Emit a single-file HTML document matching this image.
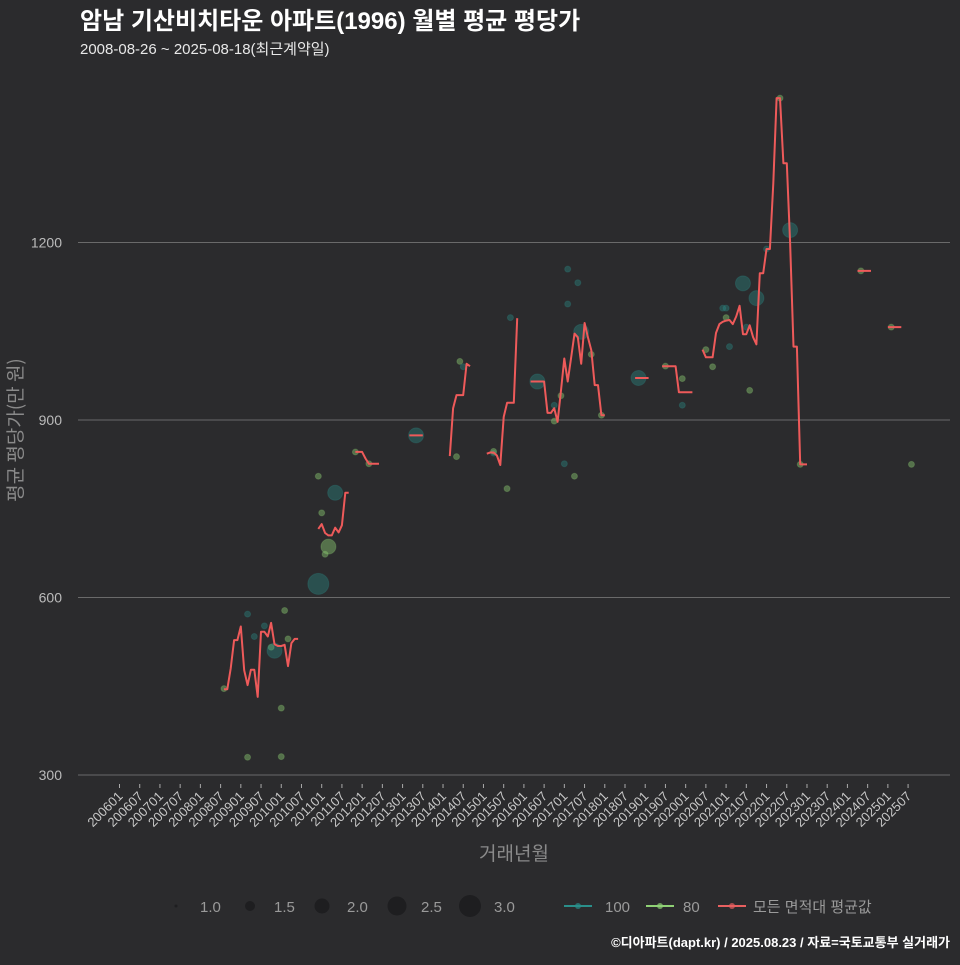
<!DOCTYPE html>
<html><head><meta charset="utf-8">
<style>
html,body{margin:0;padding:0;background:#2b2b2d;}
body{width:960px;height:960px;overflow:hidden;font-family:"Liberation Sans","Noto Sans CJK KR",sans-serif;}
</style></head>
<body>
<svg id="chart" width="960" height="960" xmlns="http://www.w3.org/2000/svg" style="font-family:'Liberation Sans','Noto Sans CJK KR',sans-serif">
<rect width="960" height="960" fill="#2b2b2d"/>
<text x="80" y="29" fill="#ffffff" font-size="24" font-weight="bold">암남 기산비치타운 아파트(1996) 월별 평균 평당가</text>
<text x="80" y="54" fill="#e8e8e8" font-size="15">2008-08-26 ~ 2025-08-18(최근계약일)</text>
<g id="grid"></g>
<g id="yticks"></g>
<g id="xticks"></g>
<g id="points"></g>
<g id="line"></g>
<text transform="translate(22,430) rotate(-90)" text-anchor="middle" fill="#8a8a8a" font-size="19" style="font-family:'Noto Sans CJK KR','Liberation Sans',sans-serif">평균 평당가(만 원)</text>
<text x="514" y="860" text-anchor="middle" fill="#8a8a8a" font-size="19">거래년월</text>
<g font-size="15" fill="#9a9a9a">
<circle cx="176" cy="906" r="1.5" fill="#1e1e20"/>
<text x="200" y="912">1.0</text>
<circle cx="250" cy="906" r="5" fill="#1e1e20"/>
<text x="274" y="912">1.5</text>
<circle cx="322" cy="906" r="7.5" fill="#1e1e20"/>
<text x="347" y="912">2.0</text>
<circle cx="397" cy="906" r="9.5" fill="#1e1e20"/>
<text x="421" y="912">2.5</text>
<circle cx="470" cy="906" r="11" fill="#1e1e20"/>
<text x="494" y="912">3.0</text>
<line x1="564" y1="906" x2="592" y2="906" stroke="#2a8f8a" stroke-width="2"/>
<circle cx="578" cy="906" r="3" fill="#2a8f8a" opacity="0.7"/>
<text x="605" y="912">100</text>
<line x1="646" y1="906" x2="674" y2="906" stroke="#8fd175" stroke-width="2"/>
<circle cx="660" cy="906" r="3" fill="#8fd175" opacity="0.7"/>
<text x="683" y="912">80</text>
<line x1="718" y1="906" x2="746" y2="906" stroke="#e86060" stroke-width="2"/>
<circle cx="732" cy="906" r="3" fill="#e86060" opacity="0.7"/>
<text x="753" y="912">모든 면적대 평균값</text>
</g>
<text x="950" y="947" text-anchor="end" fill="#ffffff" font-size="13" font-weight="bold">©디아파트(dapt.kr) / 2025.08.23 / 자료=국토교통부 실거래가</text>
</svg>
<script>
const yTickValues=[300,600,900,1200];
const xTickLabels=[];
for(let y=2006;y<=2025;y++){xTickLabels.push(y+"01");xTickLabels.push(y+"07");}
const lineMonths=[200808,200809,200810,200811,200812,200901,200902,200903,200904,200905,200906,200907,200908,200909,200910,200911,200912,201001,201002,201003,201004,201005,201006,201007,
201012,201101,201102,201103,201104,201105,201106,201107,201108,201109,201110,
201111,201112,201201,201202,201203,201204,201205,201206,201207,
201303,201304,201305,201306,201307,201308,
201403,201404,201405,201406,201407,201408,201409,201410,
201502,201503,201504,201505,201506,201507,201508,201509,201510,201511,201512,
201603,201604,201605,201606,201607,201608,201609,201610,201611,201612,201701,201702,201703,201704,201705,201706,201707,201708,201709,201710,201711,201712,201801,201802,
201810,201811,201812,201901,201902,201903,
201906,201907,201908,201909,201910,201911,201912,202001,202002,202003,202004,
202006,202007,202008,202009,202010,202011,202012,202101,202102,202103,202104,202105,202106,202107,202108,202109,202110,202111,202112,202201,202202,202203,202204,202205,202206,202207,202208,202209,202210,202211,202212,202301,
202403,202404,202405,202406,202407,202408,
202412,202501,202502,202503,202504,202505,
202507,202508];
const lineValues=[445,445,480,528,528,551,477,452,478,478,432,542,542,534,557,521,518,518,520,484,523,530,530,null,
716,724,709,705,705,718,710,722,777,777,null,
846,846,846,835,826,826,826,826,null,
874,874,874,874,874,null,
839,920,942,942,942,995,991,null,
843,845,845,840,824,905,929,929,929,1072,null,
965,965,965,965,965,912,912,920,897,950,1004,965,1005,1046,1040,995,1064,1040,1018,959,959,908,908,null,
971,971,971,971,971,null,
991,991,991,991,991,947,947,947,947,947,null,
1019,1006,1006,1006,1047,1062,1066,1068,1069,1062,1075,1093,1045,1045,1060,1040,1028,1148,1148,1189,1189,1300,1444,1444,1334,1334,1200,1024,1024,825,825,825,null,
1152,1152,1152,1152,1152,null,
1057,1057,1057,1057,1057,null,
825,825];
const ptMonths=[200808,200903,200903,200905,200908,200910,200911,201001,201002,201003,201001,
201012,201101,201103,201102,201012,201105,201111,201203,201305,
201406,201407,201405,201504,201504,201508,201509,
201605,201610,201612,201610,201701,201704,201702,201705,201706,201709,201712,201702,
201811,201907,201912,201912,202007,202009,202012,202101,202101,202102,202106,202107,202108,202110,202201,202205,202208,202211,202405,202502,202508];
const ptValues=[446,572,330,534,552,516,510,413,578,530,331,
805,743,686,673,623,777,846,826,874,
999,990,838,844,847,784,1073,
965,898,941,925,826,805,1096,1132,1049,1011,908,1155,
971,991,970,925,1019,990,1089,1089,1073,1024,1131,1057,950,1106,1189,1444,1221,825,1152,1057,825];
const ptSizes=[1,1,1,1,1,1,2,1,1,1,1,
1,1,2,1,3,2,1,1,2,
1,1,1,1,1,1,1,
2,1,1,1,1,1,1,1,2,1,1,1,
2,1,1,1,1,1,1,1,1,1,2,1,1,2,1,1,2,1,1,1,1];
const ptTypes=["80","100","80","100","100","80","100","80","80","80","80",
"80","80","80","80","100","100","80","80","100",
"80","100","80","100","80","80","100",
"100","80","80","100","100","80","100","100","100","80","80","100",
"100","80","80","100","80","80","100","100","80","100","100","100","80","100","100","80","100","80","80","80","80"];

const NS="http://www.w3.org/2000/svg";
function mIdx(ym){return (Math.floor(ym/100)-2006)*12+(ym%100-1);}
function xS(ym){return 119.5+3.37*mIdx(ym);}
function yS(v){return 775-(v-300)*177.5/300;}
function mk(tag,attrs,parent){const e=document.createElementNS(NS,tag);for(const k in attrs)e.setAttribute(k,attrs[k]);parent.appendChild(e);return e;}

const grid=document.getElementById('grid'),yt=document.getElementById('yticks'),xt=document.getElementById('xticks');
yTickValues.forEach(v=>{
  const l=mk('line',{x1:78,x2:950,y1:yS(v),y2:yS(v),stroke:'#6a6a6a','stroke-width':1},grid);
  
  
  const t=mk('text',{x:62,y:yS(v)+5,'text-anchor':'end',fill:'#bbbbbb','font-size':14},yt);
  t.textContent=v;
  
  
});
xTickLabels.forEach(lb=>{
  const x=xS(parseInt(lb));
  const tk=mk('line',{x1:x,x2:x,y1:784,y2:788,stroke:'#aaaaaa','stroke-width':1},xt);
  
  
  const t=mk('text',{x:x+4,y:797,'text-anchor':'end',fill:'#c8c8c8','font-size':13,transform:'rotate(-45 '+(x+4)+' 797)'},xt);
  t.textContent=lb;
  
  
});
const pg=document.getElementById('points');
const rad={1:3,2:7.5,3:10.5};
ptMonths.forEach((m,i)=>{
  const col=ptTypes[i]==="100"?'#2a8f8a':'#8fd175';
  const c=mk('circle',{cx:xS(m),cy:yS(ptValues[i]),r:rad[ptSizes[i]],fill:col,'fill-opacity':ptTypes[i]==="100"?0.38:0.42,stroke:col,'stroke-opacity':0.25},pg);
  
  
});
const lg=document.getElementById('line');
let d='',pen=false;
lineMonths.forEach((m,i)=>{
  const v=lineValues[i];
  if(v===null){pen=false;return;}
  d+=(pen?'L':'M')+xS(m).toFixed(1)+' '+yS(v).toFixed(1)+' ';
  pen=true;
});
const p=mk('path',{d:d,fill:'none',stroke:'#ee5a5a','stroke-width':2,'stroke-linejoin':'round'},lg);


</script>
</body></html>
